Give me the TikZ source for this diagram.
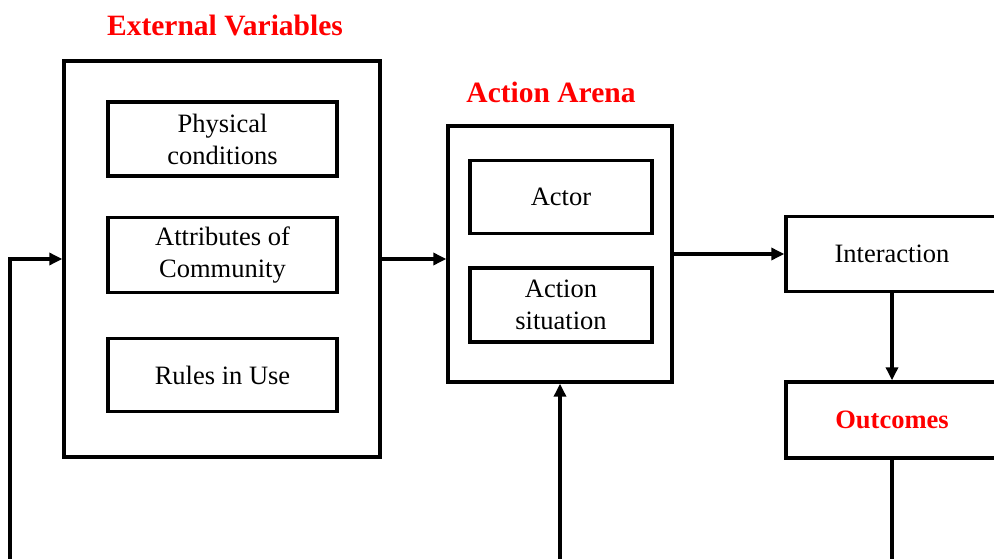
\documentclass[tikz,border=0pt]{standalone}
\usepackage{fontspec}
\setmainfont{Liberation Serif}
\usetikzlibrary{arrows.meta}
\definecolor{titlered}{RGB}{255,0,0}
\tikzset{
  box/.style={draw, line width=3.4pt, align=center, inner sep=0pt,
    font=\fontsize{26.5}{32}\selectfont},
  ttl/.style={text=titlered, font=\bfseries\fontsize{29.5}{32}\selectfont, inner sep=0pt},
  conn/.style={line width=3.4pt, -{Triangle[length=13pt,width=12pt]}},
  plain/.style={line width=3.4pt}
}
\begin{document}
\begin{tikzpicture}[x=1pt,y=-1pt]
\useasboundingbox (0,0) rectangle (994,559);
\clip (0,0) rectangle (994,559);
% External variables
\node[box, minimum width=316, minimum height=396] (ext) at (222,259) {};
\node[ttl] (extT) at (225,25) {External Variables};
\node[box, minimum width=229, minimum height=74] (phys) at (222.5,139) {Physical\\conditions};
\node[box, minimum width=229, minimum height=75] (attr) at (222.5,255) {Attributes of\\Community};
\node[box, minimum width=229, minimum height=73] (rules) at (222.5,375) {Rules in Use};
% Action arena
\node[box, minimum width=224, minimum height=256] (arena) at (560,254) {};
\node[ttl] (arenaT) at (551,92) {Action Arena};
\node[box, minimum width=182, minimum height=73] (actor) at (561,197) {Actor};
\node[box, minimum width=182, minimum height=74] (sit) at (561,305) {Action\\situation};
% Right side
\node[box, minimum width=212, minimum height=75] (inter) at (892,254) {Interaction};
\node[box, minimum width=212, minimum height=76, text=titlered, font=\bfseries\fontsize{26.5}{32}\selectfont] (out) at (892,420) {Outcomes};
% connectors
\coordinate (fbL) at (10,570);
\coordinate (fbB) at (560,570);
\coordinate (fbR) at (892,570);
\draw[conn] (fbL) |- (ext.west);
\draw[conn] (ext.east) -- (ext.east -| arena.west);
\draw[conn] (arena.east |- inter.west) -- (inter.west);
\draw[conn] (inter.south) -- (out.north);
\draw[plain] (out.south) -- (fbR);
\draw[conn] (fbB) -- (arena.south);
\end{tikzpicture}
\end{document}
